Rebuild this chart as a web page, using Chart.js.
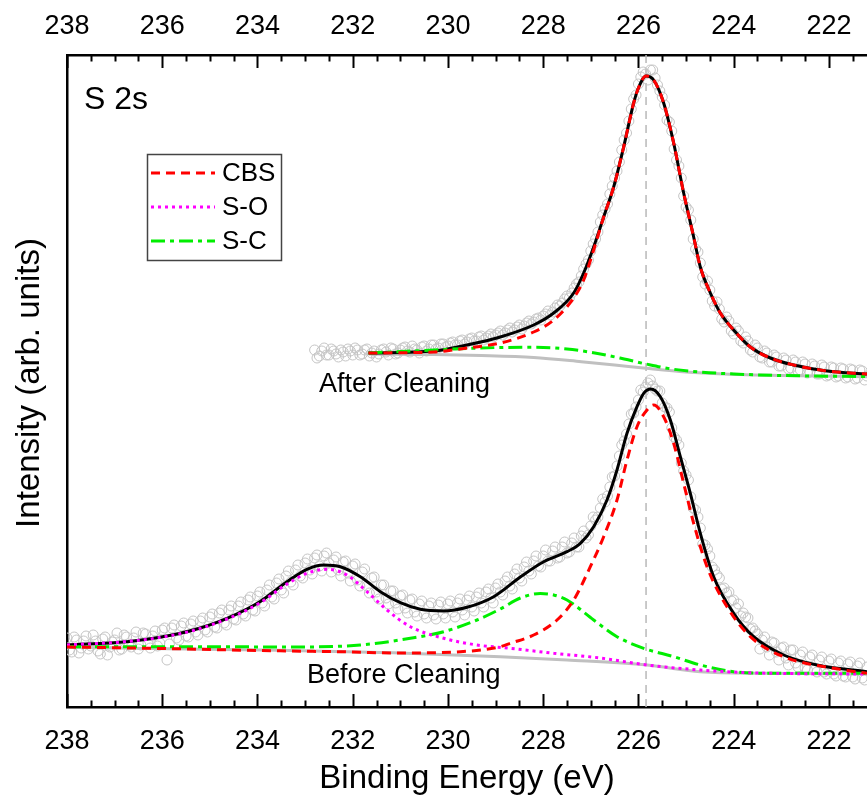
<!DOCTYPE html>
<html>
<head>
<meta charset="utf-8">
<script src="https://cdn.jsdelivr.net/npm/chart.js@4.4.0/dist/chart.umd.min.js"></script>
<style>
  html, body { margin: 0; padding: 0; background: #fff; overflow: hidden; }
</style>
</head>
<body>
<canvas id="xpsChart" width="867" height="800"></canvas>
<script>
// binding energy axis (eV), reversed
const xMin = 221.2;
const xMax = 238;
const majorTicks = [238, 236, 234, 232, 230, 228, 226, 224, 222];
const refLine = 225.84;

// ---- After Cleaning ----
// measured points, 0.1 eV step; second pass is offset by 0.05 eV
const afterScanStart = 232.8;
const afterScanStep = 0.1;
const afterData = [
  357, 351, 359, 352, 356, 350, 355, 358, 352, 357, 353, 358, 354, 350, 357, 355, 359, 353, 357, 360,
  355, 358, 354, 361, 358, 362, 359, 363, 361, 365, 362, 367, 365, 369, 366, 371, 369, 373, 372, 376,
  374, 379, 377, 382, 381, 386, 385, 389, 391, 396, 395, 402, 404, 411, 414, 423, 431, 443, 456, 468,
  485, 498, 513, 529, 545, 567, 586, 608, 623, 635, 627, 637, 622, 610, 587, 576, 547, 529, 500, 487,
  458, 444, 423, 417, 401, 398, 385, 386, 373, 376, 364, 366, 355, 359, 349, 354, 345, 350, 341, 347,
  339, 345, 337, 343, 335, 341, 333, 340, 332, 339, 331, 338, 330, 337, 329, 336, 331
];
const afterScan2Start = 232.75;
const afterData2 = [
  349, 356, 352, 358, 353, 357, 351, 356, 359, 352,
  357, 351, 356, 353, 358, 352, 358, 354, 359, 356,
  361, 357, 360, 356, 362, 358, 363, 360, 364, 362,
  366, 363, 368, 366, 370, 367, 371, 370, 374, 372,
  377, 375, 380, 378, 384, 383, 388, 387, 393, 392,
  399, 401, 408, 409, 419, 425, 438, 447, 463, 475,
  492, 503, 521, 536, 557, 574, 598, 612, 630, 633,
  637, 629, 616, 602, 585, 558, 541, 511, 497, 468,
  455, 430, 426, 406, 405, 388, 390, 376, 379, 366,
  370, 357, 362, 350, 356, 345, 352, 341, 349, 338,
  347, 336, 345, 334, 343, 333, 342, 331, 340, 330,
  339, 329, 338, 328, 337, 327
];

const afterFitE = [231.67, 230.30, 229.60, 228.90, 228.20, 227.78, 227.36, 227.15, 226.94, 226.73, 226.52, 226.31, 226.10, 226.00, 225.84, 225.68, 225.47, 225.26, 225.05, 224.84, 224.70, 224.49, 224.28, 224.00, 223.65, 223.23, 222.74, 222.04, 221.20];
const afterFit = [354, 356, 362, 370, 382, 394, 414, 434, 460, 490, 520, 560, 604, 619, 631, 627, 604, 564, 514, 470, 440, 414, 394, 377, 360, 349, 342, 336, 333];
const afterCbs = [354, 355, 359, 364, 375, 387, 409, 427, 457, 490, 520, 560, 604, 619, 631, 627, 604, 564, 514, 470, 440, 414, 394, 377, 360, 349, 342, 336, 333];

const afterScE = [231.67, 230.30, 229.60, 228.90, 228.20, 227.50, 226.80, 226.30, 225.84, 225.30, 224.70, 224.00, 223.00, 221.20];
const afterSc = [354, 357, 358.5, 359.5, 359.7, 358, 353, 348, 343, 338, 335, 333, 331.5, 330.5];

const afterBgE = [231.67, 230.30, 229.30, 228.20, 227.20, 226.50, 225.84, 225.00, 224.20, 223.00, 221.20];
const afterBg = [353, 352.5, 351.5, 349.5, 345.3, 342, 338.7, 335, 333, 331.5, 330.3];

// ---- Before Cleaning ----
const beforeScanStart = 238.0;
const beforeScanStep = 0.1;
const beforeData = [
  69, 55, 67, 59, 71, 61, 66, 53, 70, 60, 67, 57, 72, 62, 69, 58, 74, 64, 71, 61,
  77, 47, 79, 69, 81, 71, 83, 75, 86, 77, 90, 80, 94, 84, 97, 88, 101, 93, 107, 97,
  111, 104, 117, 110, 124, 117, 131, 125, 137, 131, 144, 137, 149, 141, 151, 144, 147, 137, 145, 134,
  141, 127, 135, 121, 129, 115, 122, 109, 116, 104, 111, 99, 107, 95, 103, 93, 101, 92, 102, 93,
  103, 95, 104, 97, 107, 100, 110, 104, 115, 109, 119, 115, 126, 121, 133, 129, 140, 136, 146, 141,
  151, 146, 156, 149, 160, 154, 164, 160, 171, 169, 181, 187, 199, 205, 220, 231, 251, 266, 283, 294,
  307, 315, 324, 321, 316, 304, 299, 279, 267, 244, 232, 210, 197, 179, 162, 151, 137, 129, 119, 115,
  107, 103, 94, 89, 79, 73, 67, 60, 65, 55, 59, 49, 57, 44, 52, 39, 50, 37, 47, 35,
  46, 33, 44, 31, 43, 30, 41, 29, 40
];
const beforeScan2Start = 237.95;
const beforeData2 = [
  57, 70, 54, 66, 58, 72, 56, 68, 52, 65,
  74, 58, 70, 60, 75, 62, 73, 59, 76, 64,
  79, 63, 82, 67, 84, 70, 86, 72, 89, 75,
  93, 79, 97, 82, 101, 87, 105, 91, 110, 96,
  115, 101, 122, 108, 128, 114, 136, 122, 142, 129,
  148, 133, 152, 136, 154, 135, 150, 131, 146, 126,
  143, 121, 138, 114, 130, 108, 122, 103, 116, 98,
  112, 94, 108, 91, 106, 89, 104, 88, 105, 89,
  106, 90, 108, 92, 111, 96, 114, 100, 118, 104,
  123, 112, 130, 118, 138, 126, 145, 133, 151, 140,
  157, 146, 160, 150, 165, 155, 169, 160, 176, 172,
  190, 190, 208, 211, 230, 241, 262, 273, 293, 300,
  317, 320, 327, 318, 316, 300, 295, 270, 262, 236,
  227, 199, 190, 163, 158, 140, 132, 118, 114, 106,
  99, 91, 90, 78, 76, 58, 70, 52, 64, 47,
  60, 42, 57, 40, 55, 37, 52, 35, 50, 33,
  48, 31, 46, 30, 45, 28, 44, 27
];

const beforeFitE = [238.00, 236.74, 236.05, 235.35, 234.64, 233.95, 233.38, 232.96, 232.61, 232.26, 231.84, 231.42, 231.00, 230.58, 230.09, 229.60, 229.04, 228.48, 227.99, 227.50, 227.22, 226.94, 226.66, 226.45, 226.24, 226.03, 225.89, 225.74, 225.54, 225.33, 225.12, 224.91, 224.70, 224.42, 224.00, 223.58, 222.95, 222.25, 221.20];
const beforeFit = [62, 65.3, 69.7, 77, 88.7, 105.3, 125.3, 137.7, 142, 140.3, 130.3, 115.3, 104.3, 97.7, 96, 99.7, 110.3, 130, 145.3, 155.3, 163.7, 180.3, 207, 237, 273.7, 300.3, 313.7, 318, 310.3, 287, 250.3, 213.7, 173.7, 130.3, 93.7, 70.3, 52, 42, 35.3];

const beforeCbsE = [238.00, 236.00, 234.00, 232.00, 231.15, 229.74, 228.90, 228.69, 228.20, 227.71, 227.36, 227.01, 226.73, 226.45, 226.24, 226.03, 225.82, 225.68, 225.47, 225.26, 225.05, 224.84, 224.56, 224.14, 223.65, 222.95, 221.90, 221.20];
const beforeCbs = [60, 58.5, 56.5, 55, 54, 55.3, 60.3, 63.7, 72, 87, 107, 140.3, 170.3, 207, 247, 280.3, 297, 302, 290.3, 263.7, 223.7, 183.7, 140.3, 100.3, 70.3, 50.3, 38.7, 33.7];

const beforeSoE = [238.00, 236.74, 236.05, 235.35, 234.64, 233.95, 233.38, 232.96, 232.54, 232.12, 231.70, 231.28, 230.79, 230.09, 229.39, 228.69, 227.78, 226.80, 225.82, 224.70, 223.50, 221.20];
const beforeSo = [62, 65.5, 69.5, 76.5, 88, 104, 123, 133.7, 137.7, 132, 115.3, 97, 80.3, 68.7, 62, 58.7, 53.7, 49, 42, 37, 34, 33];

const beforeScE = [238.00, 235.30, 233.20, 231.84, 230.79, 230.09, 229.39, 228.90, 228.48, 228.06, 227.78, 227.50, 226.94, 226.45, 225.89, 225.26, 224.70, 224.00, 223.30, 221.20];
const beforeSc = [60.3, 60.3, 60, 62, 68.7, 75.3, 87, 98, 109, 113.5, 112, 107, 87, 70.3, 58.7, 50.3, 42, 35.3, 33.7, 33.7];

const beforeBgE = [238.00, 233.95, 231.15, 228.90, 227.50, 225.82, 224.70, 223.30, 221.20];
const beforeBg = [59.7, 57, 54.3, 50.3, 47, 42, 35.3, 33.7, 33];

const legendItems = ["CBS", "S-O", "S-C"];

function pairs(xs, ys) {
  return ys.map((y, i) => ({ x: xs[i], y: y }));
}

function scanPairs(start, step, ys) {
  return ys.map((y, i) => ({ x: +(start - i * step).toFixed(2), y: y }));
}

const styles = {
  fit: { borderColor: "#000000", borderWidth: 3, order: 6 },
  cbs: { borderColor: "#ff0000", borderWidth: 3, borderDash: [9, 6], order: 2 },
  so: { borderColor: "#ff00ff", borderWidth: 3, borderDash: [3, 4], order: 3 },
  sc: { borderColor: "#00ee00", borderWidth: 3, borderDash: [14, 5, 4, 5], order: 4 },
  bg: { borderColor: "#c0c0c0", borderWidth: 3, order: 8 }
};

function lineSet(label, data, st) {
  return Object.assign({
    label: label,
    data: data,
    showLine: true,
    pointRadius: 0,
    fill: false,
    cubicInterpolationMode: "monotone"
  }, st);
}

function dotSet(label, data) {
  return {
    label: label,
    data: data,
    showLine: false,
    pointStyle: "circle",
    pointRadius: 5,
    borderWidth: 1,
    borderColor: "#c4c4c4",
    backgroundColor: "rgba(255,255,255,0)",
    order: 10
  };
}

const FONT = "'Liberation Sans', Arial, sans-serif";

const decor = {
  id: "decor",
  beforeDatasetsDraw(chart) {
    const { ctx, chartArea: a, scales } = chart;
    const x = scales.x.getPixelForValue(refLine);
    ctx.save();
    ctx.strokeStyle = "#b8b8b8";
    ctx.lineWidth = 1.5;
    ctx.setLineDash([8, 6]);
    ctx.beginPath();
    ctx.moveTo(x, a.top);
    ctx.lineTo(x, a.bottom);
    ctx.stroke();
    ctx.restore();
  },
  afterDraw(chart) {
    const { ctx, chartArea: a, scales } = chart;
    ctx.save();

    // inward ticks on top and bottom axes
    ctx.strokeStyle = "#000";
    ctx.lineWidth = 2;
    for (let v = xMax; v >= xMin; v -= 0.5) {
      const px = Math.round(scales.x.getPixelForValue(v)) + 0.5;
      const len = (v % 2 === 0) ? 13 : 6.5;
      ctx.beginPath();
      ctx.moveTo(px, a.bottom);
      ctx.lineTo(px, a.bottom - len);
      ctx.moveTo(px, a.top);
      ctx.lineTo(px, a.top + len);
      ctx.stroke();
    }

    ctx.fillStyle = "#000";
    ctx.textBaseline = "middle";

    // panel label and spectrum captions
    ctx.textAlign = "left";
    ctx.font = "32px " + FONT;
    ctx.fillText("S 2s", 84, 100);
    ctx.font = "27px " + FONT;
    ctx.fillText("After Cleaning", 319, 385);
    ctx.fillText("Before Cleaning", 307, 676);

    // legend
    ctx.strokeStyle = "#444";
    ctx.lineWidth = 1.5;
    ctx.strokeRect(147.5, 154.5, 134, 106);
    const legendStyles = [styles.cbs, styles.so, styles.sc];
    const rows = [173, 207, 241];
    ctx.font = "26px " + FONT;
    legendItems.forEach((name, i) => {
      const st = legendStyles[i];
      ctx.strokeStyle = st.borderColor;
      ctx.lineWidth = 3;
      ctx.setLineDash(st.borderDash);
      ctx.beginPath();
      ctx.moveTo(151, rows[i]);
      ctx.lineTo(215, rows[i]);
      ctx.stroke();
      ctx.setLineDash([]);
      ctx.fillText(name, 222, rows[i] + 1);
    });

    // axis titles
    ctx.textAlign = "center";
    ctx.font = "33px " + FONT;
    ctx.fillText("Binding Energy (eV)", 467, 779);
    ctx.translate(30, 383);
    ctx.rotate(-Math.PI / 2);
    ctx.fillText("Intensity (arb. units)", 0, 0);
    ctx.restore();
  }
};

function xAxis(pos, h, pad) {
  return {
    type: "linear",
    position: pos,
    min: xMin,
    max: xMax,
    reverse: true,
    grid: { display: false, drawTicks: false },
    border: { display: true, color: "#000", width: 2.5 },
    ticks: {
      color: "#000",
      padding: pad,
      font: { family: FONT, size: 27 },
      callback: v => String(v)
    },
    afterBuildTicks: s => { s.ticks = majorTicks.map(v => ({ value: v })); },
    afterFit: s => {
      s.height = h;
      s.paddingLeft = 0;
      s.paddingRight = 0;
    }
  };
}

new Chart(document.getElementById("xpsChart"), {
  type: "scatter",
  data: {
    datasets: [
      lineSet("CBS", pairs(afterFitE, afterCbs), styles.cbs),
      lineSet("Fit", pairs(afterFitE, afterFit), styles.fit),
      lineSet("S-C", pairs(afterScE, afterSc), styles.sc),
      lineSet("Background", pairs(afterBgE, afterBg), styles.bg),
      lineSet("CBS", pairs(beforeCbsE, beforeCbs), styles.cbs),
      lineSet("S-O", pairs(beforeSoE, beforeSo), styles.so),
      lineSet("Fit", pairs(beforeFitE, beforeFit), styles.fit),
      lineSet("S-C", pairs(beforeScE, beforeSc), styles.sc),
      lineSet("Background", pairs(beforeBgE, beforeBg), styles.bg),
      dotSet("After Cleaning", scanPairs(afterScanStart, afterScanStep, afterData)),
      dotSet("After Cleaning", scanPairs(afterScan2Start, afterScanStep, afterData2)),
      dotSet("Before Cleaning", scanPairs(beforeScanStart, beforeScanStep, beforeData)),
      dotSet("Before Cleaning", scanPairs(beforeScan2Start, beforeScanStep, beforeData2))
    ]
  },
  options: {
    responsive: false,
    animation: false,
    layout: { padding: 0, autoPadding: false },
    plugins: {
      legend: { display: false },
      tooltip: { enabled: false }
    },
    scales: {
      x: xAxis("bottom", 93, 18),
      x2: xAxis("top", 55, 12),
      y: {
        type: "linear",
        min: 0,
        max: 652,
        grid: { display: false, drawTicks: false },
        border: { display: true, color: "#000", width: 2.5 },
        ticks: { display: false },
        afterFit: s => { s.width = 67; }
      }
    }
  },
  plugins: [decor]
});
</script>
</body>
</html>
